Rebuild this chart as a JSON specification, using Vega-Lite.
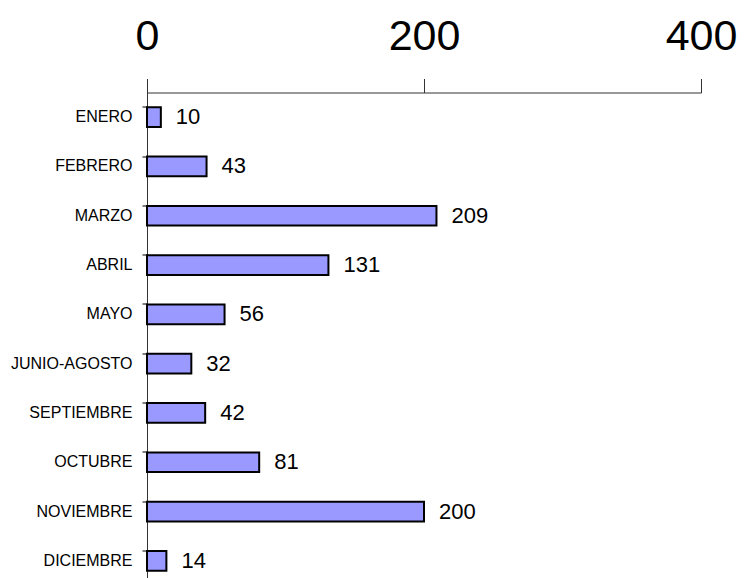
{
  "$schema": "https://vega.github.io/schema/vega-lite/v6.json",
  "autosize": "none",
  "width": 554,
  "height": 493,
  "padding": {"left": 147, "top": 92.5, "right": 45, "bottom": 0},
  "background": "white",
  "config": {"view": {"stroke": null}, "font": "Liberation Sans"},
  "data": {"values": [
    {"mes": "ENERO", "valor": 10},
    {"mes": "FEBRERO", "valor": 43},
    {"mes": "MARZO", "valor": 209},
    {"mes": "ABRIL", "valor": 131},
    {"mes": "MAYO", "valor": 56},
    {"mes": "JUNIO-AGOSTO", "valor": 32},
    {"mes": "SEPTIEMBRE", "valor": 42},
    {"mes": "OCTUBRE", "valor": 81},
    {"mes": "NOVIEMBRE", "valor": 200},
    {"mes": "DICIEMBRE", "valor": 14}
  ]},
  "encoding": {
    "y": {"field": "mes", "type": "nominal", "sort": null,
      "scale": {"paddingInner": 0.6, "paddingOuter": 0.3},
      "axis": {"title": null, "bandPosition": 0, "tickSize": 5, "tickColor": "black", "domainColor": "#333333",
        "labelFont": "Liberation Sans", "labelFontSize": 16, "labelColor": "black", "labelPadding": 10}},
    "x": {"field": "valor", "type": "quantitative",
      "scale": {"domain": [0, 400], "nice": false},
      "axis": {"orient": "top", "values": [0, 200, 400], "title": null, "grid": false,
        "tickSize": 14, "tickColor": "#333333", "domainColor": "#333333",
        "labelFont": "Liberation Sans", "labelFontSize": 43, "labelColor": "black", "labelPadding": 20, "labelFlush": false}}
  },
  "layer": [
    {"mark": {"type": "bar", "fill": "#9999FF", "stroke": "black", "strokeWidth": 2}},
    {"mark": {"type": "text", "align": "left", "baseline": "middle", "dx": 15, "fontSize": 22, "font": "Liberation Sans", "color": "black"},
     "encoding": {"text": {"field": "valor", "type": "quantitative"}}}
  ]
}
